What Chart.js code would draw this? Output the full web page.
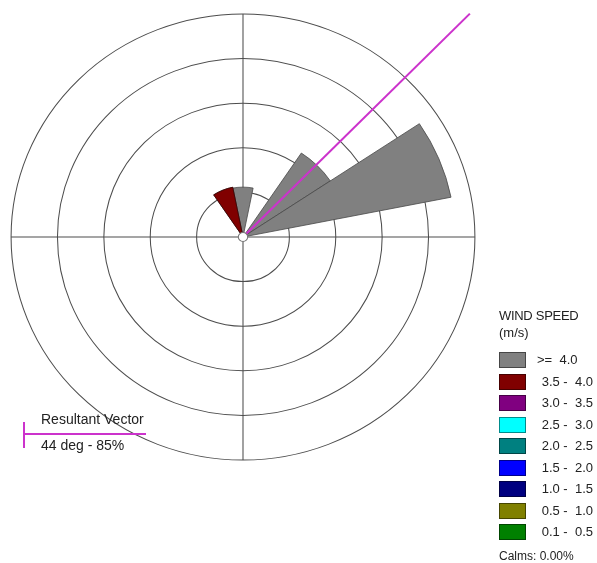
<!DOCTYPE html>
<html>
<head>
<meta charset="utf-8">
<script src="https://cdn.jsdelivr.net/npm/chart.js@4/dist/chart.umd.min.js"></script>
<style>
  body { margin: 0; background: #fff; font-family: "Liberation Sans", Arial, sans-serif; color: #222; }
  #wrap { position: absolute; left: 0; top: 0; width: 597px; height: 563px; }
  .txt { position: absolute; white-space: pre; }
  .box { position: absolute; width: 25px; height: 14px; border: 1px solid rgba(0, 0, 0, 0.45); }
</style>
</head>
<body>
<div id="wrap"><canvas id="rose"></canvas></div>
<div id="legend"></div>
<div id="vector"></div>
<script>
// 16 compass sectors, clockwise from north
const directions = ['N', 'NNE', 'NE', 'ENE', 'E', 'ESE', 'SE', 'SSE', 'S', 'SSW', 'SW', 'WSW', 'W', 'WNW', 'NW', 'NNW'];

// speed classes (m/s), slowest first
const speedClasses = ['0.1 - 0.5', '0.5 - 1.0', '1.0 - 1.5', '1.5 - 2.0', '2.0 - 2.5', '2.5 - 3.0', '3.0 - 3.5', '3.5 - 4.0', '>= 4.0'];
const classColors = ['#008000', '#808000', '#000080', '#0000ff', '#008080', '#00ffff', '#800080', '#800000', '#808080'];

// frequency (%) per sector for each class
const f01to05 = [0, 0, 0, 0, 0, 0, 0, 0, 0, 0, 0, 0, 0, 0, 0, 0];
const f05to10 = [0, 0, 0, 0, 0, 0, 0, 0, 0, 0, 0, 0, 0, 0, 0, 0];
const f10to15 = [0, 0, 0, 0, 0, 0, 0, 0, 0, 0, 0, 0, 0, 0, 0, 0];
const f15to20 = [0, 0, 0, 0, 0, 0, 0, 0, 0, 0, 0, 0, 0, 0, 0, 0];
const f20to25 = [0, 0, 0, 0, 0, 0, 0, 0, 0, 0, 0, 0, 0, 0, 0, 0];
const f25to30 = [0, 0, 0, 0, 0, 0, 0, 0, 0, 0, 0, 0, 0, 0, 0, 0];
const f30to35 = [0, 0, 0, 0, 0, 0, 0, 0, 0, 0, 0, 0, 0, 0, 0, 0];
const f35to40 = [0, 0, 0, 0, 0, 0, 0, 0, 0, 0, 0, 0, 0, 0, 0, 12.5];
const f40up = [12.3, 0, 24.9, 50.3, 0, 0, 0, 0, 0, 0, 0, 0, 0, 0, 0, 0];
const calms = 0.0;

// ring spacing in %
const ringStep = 11;
const ringCount = 5;

const classFreqs = [f01to05, f05to10, f10to15, f15to20, f20to25, f25to30, f30to35, f35to40, f40up];

// stack the classes: dataset k holds the running total up to class k,
// dataset 0 is drawn last so the slow classes sit on top near the centre
const running = directions.map(() => 0);
const datasets = classFreqs.map((arr, k) => {
  arr.forEach((v, i) => { running[i] += v; });
  return {
    label: speedClasses[k],
    data: running.slice(),
    backgroundColor: classColors[k],
    borderColor: k === 7 ? '#3a0000' : '#4a4a4a',
    borderWidth: 0.8,
  };
});

// resultant vector from the sector totals
let vx = 0;
let vy = 0;
running.forEach((t, i) => {
  const a = (i * 360 / directions.length) * Math.PI / 180;
  vx += t * Math.sin(a);
  vy += t * Math.cos(a);
});
const total = running.reduce((a, b) => a + b, 0) + calms;
let resultantDir = Math.atan2(vx, vy) * 180 / Math.PI;
if (resultantDir < 0) resultantDir += 360;
const resultantPct = Math.hypot(vx, vy) / total * 100;

const stretchX = 1.04;
const magenta = 'rgb(204, 51, 204)';

const rosePlugin = {
  id: 'rose',
  beforeDraw(chart) {
    const s = chart.scales.r;
    const ctx = chart.ctx;
    ctx.save();
    ctx.translate(s.xCenter, s.yCenter);
    ctx.scale(stretchX, 1);
    ctx.translate(-s.xCenter, -s.yCenter);
  },
  beforeDatasetsDraw(chart) {
    // N-S and E-W cross
    const s = chart.scales.r;
    const ctx = chart.ctx;
    const r = s.drawingArea;
    ctx.save();
    ctx.strokeStyle = '#4d4d4d';
    ctx.lineWidth = 1;
    ctx.beginPath();
    ctx.moveTo(s.xCenter - r, s.yCenter);
    ctx.lineTo(s.xCenter + r, s.yCenter);
    ctx.moveTo(s.xCenter, s.yCenter - r);
    ctx.lineTo(s.xCenter, s.yCenter + r);
    ctx.stroke();
    ctx.restore();
  },
  afterDatasetsDraw(chart) {
    const s = chart.scales.r;
    const ctx = chart.ctx;
    const a = resultantDir * Math.PI / 180;
    const len = s.drawingArea * 1.4;
    ctx.save();
    ctx.strokeStyle = magenta;
    ctx.lineWidth = 2;
    ctx.beginPath();
    ctx.moveTo(s.xCenter, s.yCenter);
    ctx.lineTo(s.xCenter + len * Math.sin(a), s.yCenter - len * Math.cos(a));
    ctx.stroke();
    // calm circle in the middle
    ctx.fillStyle = '#fff';
    ctx.strokeStyle = '#777';
    ctx.lineWidth = 1;
    ctx.beginPath();
    ctx.arc(s.xCenter, s.yCenter, 4.5, 0, Math.PI * 2);
    ctx.fill();
    ctx.stroke();
    ctx.restore();
  },
  afterDraw(chart) {
    chart.ctx.restore();
  },
};

new Chart(document.getElementById('rose'), {
  type: 'polarArea',
  data: { labels: directions, datasets },
  options: {
    responsive: true,
    maintainAspectRatio: false,
    animation: false,
    layout: { padding: { left: 20, top: 14, right: 131, bottom: 103 } },
    plugins: { legend: { display: false }, tooltip: { enabled: false } },
    scales: {
      r: {
        min: 0,
        max: ringStep * ringCount,
        startAngle: -180 / directions.length,
        ticks: { display: false, stepSize: ringStep },
        grid: { circular: true, color: '#4d4d4d', lineWidth: 1 },
        angleLines: { display: false },
        pointLabels: { display: false },
      },
    },
  },
  plugins: [rosePlugin],
});

// legend, fastest class first
const legend = document.getElementById('legend');
const addText = (parent, text, css) => {
  const el = document.createElement('div');
  el.className = 'txt';
  el.textContent = text;
  Object.assign(el.style, css);
  parent.append(el);
  return el;
};
addText(legend, 'WIND SPEED', { left: '499px', top: '308px', fontSize: '13px', lineHeight: '16px', letterSpacing: '-0.3px' });
addText(legend, '(m/s)', { left: '499px', top: '325px', fontSize: '13px', lineHeight: '16px' });
speedClasses.slice().reverse().forEach((label, i) => {
  const k = speedClasses.length - 1 - i;
  const top = 352 + i * 21.5;
  const box = document.createElement('div');
  box.className = 'box';
  box.style.left = '499px';
  box.style.top = top + 'px';
  box.style.background = classColors[k];
  legend.append(box);
  if (label.startsWith('>=')) {
    addText(legend, label.replace(' ', '  '), { left: '537px', top: top + 'px', fontSize: '13px', lineHeight: '16px' });
  } else {
    addText(legend, label.replace(' - ', ' -  '), { right: '4px', top: top + 'px', fontSize: '13px', lineHeight: '16px', textAlign: 'right' });
  }
});
addText(legend, 'Calms: ' + calms.toFixed(2) + '%', { left: '499px', top: '549px', fontSize: '12px', lineHeight: '14px' });

// resultant vector key
const vec = document.getElementById('vector');
const line = (css) => {
  const el = document.createElement('div');
  el.style.position = 'absolute';
  el.style.background = magenta;
  Object.assign(el.style, css);
  vec.append(el);
};
line({ left: '23px', top: '433px', width: '123px', height: '2px' });
line({ left: '23px', top: '422px', width: '2px', height: '26px' });
addText(vec, 'Resultant Vector', { left: '41px', top: '411px', fontSize: '14px', lineHeight: '16px' });
addText(vec, Math.round(resultantDir) + ' deg - ' + Math.round(resultantPct) + '%', { left: '41px', top: '437px', fontSize: '14px', lineHeight: '16px' });
</script>
</body>
</html>
